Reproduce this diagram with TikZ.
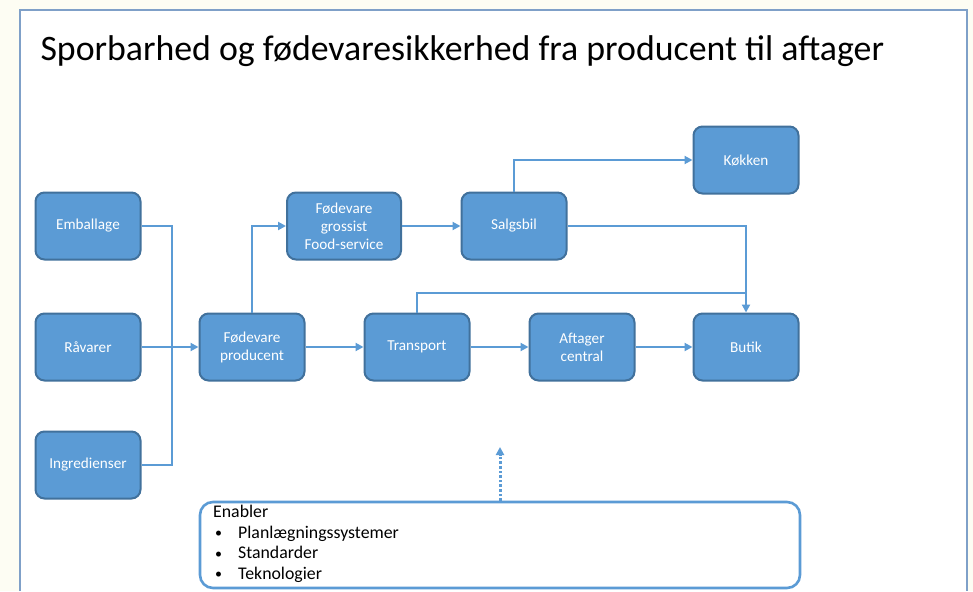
\documentclass[tikz,border=0pt]{standalone}
\usepackage{fontspec}
\setmainfont{Carlito}
\usetikzlibrary{arrows.meta}
\definecolor{boxc}{HTML}{5B9BD5}
\definecolor{boxedge}{HTML}{41719C}
\definecolor{linkc}{HTML}{5B9BD5}
\definecolor{framec}{HTML}{7FA0C8}
\definecolor{paperc}{HTML}{FDFDF3}
\newcommand{\enabbullet}{\makebox[25pt][l]{\hspace{2pt}\raisebox{0.5pt}{\fontsize{14pt}{14pt}\selectfont\textbullet}}}
\tikzset{
  stage/.style={draw=boxedge, fill=boxc, line width=2pt, rounded corners=9pt,
    minimum width=105pt, minimum height=67pt, text=white, align=center,
    font=\fontsize{15.2pt}{18pt}\selectfont},
  link/.style={draw=linkc, line width=2.6pt},
  flow/.style={link, -{Triangle[length=8pt,width=8pt]}},
}
\begin{document}
\begin{tikzpicture}[x=1pt,y=-1pt]
\useasboundingbox (0,0) rectangle (973,591);
\fill[paperc] (0,0) rectangle (973,591);
\fill[white] (20,10) rectangle (967,591);
\draw[framec, line width=2.5pt] (20,591) -- (20,10) -- (967,10) -- (967,591);
\node[anchor=base west, font=\fontsize{35.8pt}{40pt}\selectfont] (title) at (37,61) {Sporbarhed og fødevaresikkerhed fra producent til aftager};
% sources
\node[stage] (emb) at (88,226) {Emballage};
\node[stage] (raa) at (88,347) {Råvarer};
\node[stage] (ingr) at (88,465) {Ingredienser};
% chain
\node[stage] (prod) at (252,347) {Fødevare\\producent};
\node[stage, minimum width=114pt] (gros) at (344,226) {Fødevare\\grossist\\Food-service};
\node[stage] (bil) at (514,226) {Salgsbil};
\node[stage] (kok) at (746,160) {Køkken};
\node[stage] (trans) at (417,347) {Transport};
\node[stage] (aft) at (582,347) {Aftager\\central};
\node[stage] (butik) at (746,347) {Butik};
% enabler
\node[draw=linkc, line width=2.6pt, rounded corners=13pt, minimum width=600pt, minimum height=86pt] (enab) at (500,545) {};
\node[anchor=north west, align=left, inner sep=0pt, font=\fontsize{17.8pt}{20.5pt}\selectfont] (enabtxt) at (213,505)
  {Enabler\\
   \enabbullet Planlægningssystemer\\
   \enabbullet Standarder\\
   \enabbullet Teknologier};
\coordinate (up) at (500,447);
% connectors
\draw[link] (emb.east) -| (172,347);
\draw[link] (ingr.east) -| (172,347);
\draw[flow] (raa) -- (prod);
\draw[flow] (prod.north) |- (gros.west);
\draw[flow] (gros) -- (bil);
\draw[flow] (bil.north) |- (kok.west);
\draw[flow] (bil.east) -| (butik.north);
\draw[link] (trans.north) |- (746,293);
\draw[flow] (prod) -- (trans);
\draw[flow] (trans) -- (aft);
\draw[flow] (aft) -- (butik);
\draw[flow, dotted, line width=3pt] (enab.north) -- (up);
\end{tikzpicture}
\end{document}
